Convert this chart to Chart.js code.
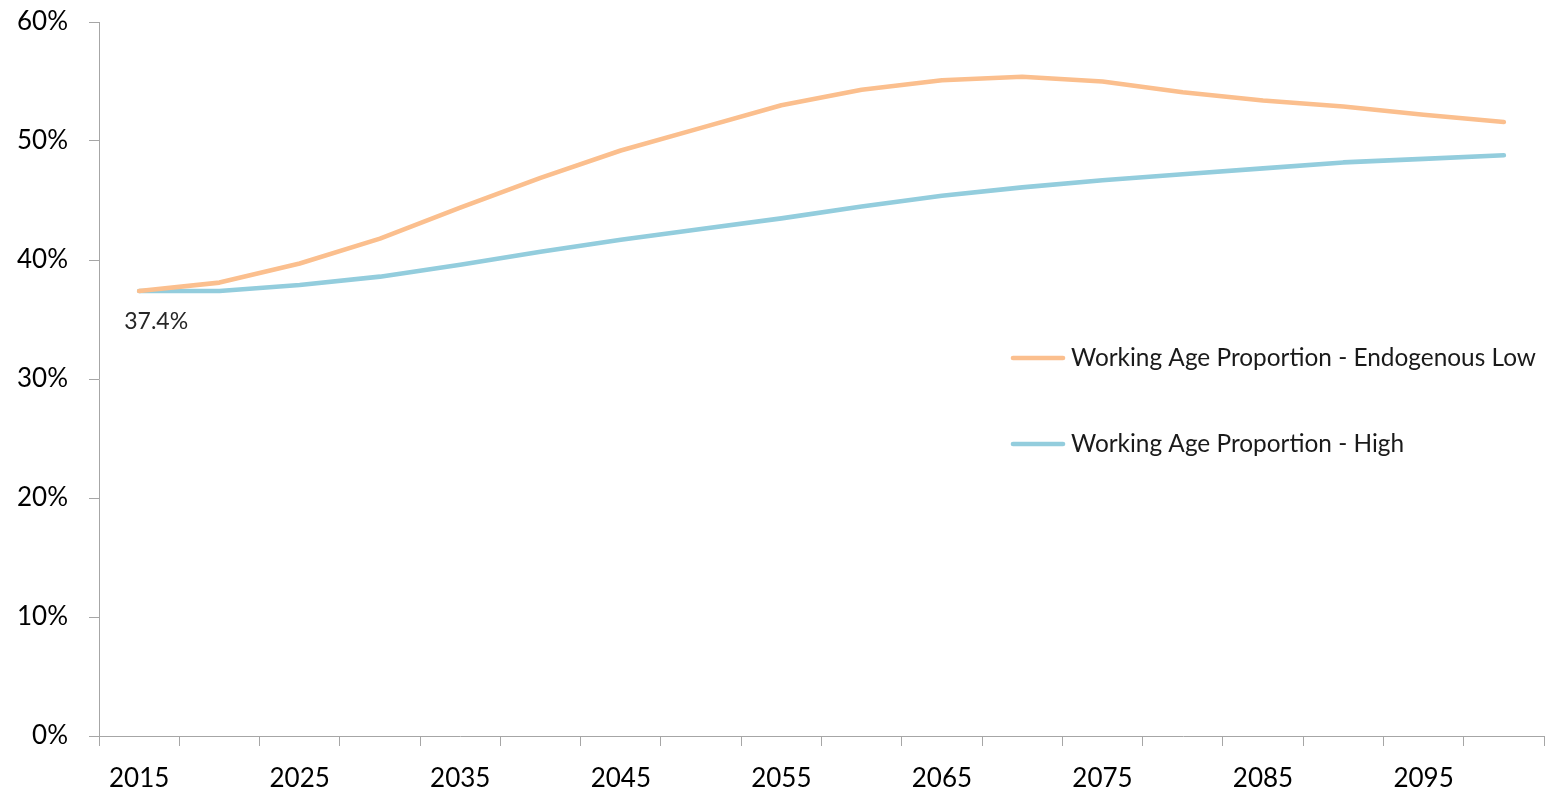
<!DOCTYPE html>
<html>
<head>
<meta charset="utf-8">
<script src="https://cdn.jsdelivr.net/npm/chart.js@4"></script>
<style>
html,body{margin:0;padding:0;background:#fff;}
#wrap{width:1548px;height:792px;position:relative;}
</style>
</head>
<body>
<div id="wrap"><canvas id="c" width="1548" height="792"></canvas></div>
<script>
const years = ['2015','2020','2025','2030','2035','2040','2045','2050','2055','2060','2065','2070','2075','2080','2085','2090','2095','2100'];
const endogenousLow = [37.4,38.1,39.7,41.8,44.4,46.9,49.2,51.1,53.0,54.3,55.1,55.4,55.0,54.1,53.4,52.9,52.2,51.6];
const high = [37.4,37.4,37.9,38.6,39.6,40.7,41.7,42.6,43.5,44.5,45.4,46.1,46.7,47.2,47.7,48.2,48.5,48.8];
const seriesNames = ['Working Age Proportion - Endogenous Low','Working Age Proportion - High'];
const yTicks = [0,10,20,30,40,50,60];
const firstLabel = '37.4%';

const FONT = 'Lato, "Open Sans", sans-serif';
const AXIS = '#A6A6A6';
const LW = 4.6;

const legendPlugin = {
  id: 'customLegend',
  afterDraw(chart) {
    const ctx = chart.ctx;
    const rows = [358, 444];
    ctx.save();
    chart.data.datasets.forEach((ds, i) => {
      const y = rows[i];
      ctx.strokeStyle = ds.borderColor;
      ctx.lineWidth = LW;
      ctx.lineCap = 'round';
      ctx.beginPath();
      ctx.moveTo(1013, y);
      ctx.lineTo(1063, y);
      ctx.stroke();
      ctx.fillStyle = '#1a1a1a';
      ctx.font = '24.4px ' + FONT;
      ctx.textBaseline = 'middle';
      ctx.textAlign = 'left';
      ctx.fillText(ds.label, 1071, y);
    });
    const meta = chart.getDatasetMeta(1);
    const p = meta.data[0];
    ctx.fillStyle = '#262626';
    ctx.font = '23px ' + FONT;
    ctx.textAlign = 'center';
    ctx.textBaseline = 'middle';
    ctx.fillText(firstLabel, p.x + 17, p.y + 31);
    ctx.restore();
  }
};

new Chart(document.getElementById('c'), {
  type: 'line',
  data: {
    labels: years,
    datasets: [
      {label: seriesNames[0], data: endogenousLow, borderColor: '#FBBF8E', borderWidth: LW, pointRadius: 0, tension: 0, borderCapStyle: 'round', borderJoinStyle: 'round', fill: false},
      {label: seriesNames[1], data: high, borderColor: '#93CDDD', borderWidth: LW, pointRadius: 0, tension: 0, borderCapStyle: 'round', borderJoinStyle: 'round', fill: false}
    ]
  },
  options: {
    responsive: false,
    animation: false,
    layout: {padding: {top: 22, right: 4, left: 0, bottom: 0}},
    plugins: {legend: {display: false}, tooltip: {enabled: false}},
    scales: {
      x: {
        offset: true,
        grid: {offset: true, drawOnChartArea: false, drawTicks: true, tickLength: 10, color: AXIS, lineWidth: 1},
        border: {color: AXIS, width: 1},
        ticks: {
          autoSkip: false, maxRotation: 0, color: '#000', padding: 17,
          font: {family: FONT, size: 26},
          callback: (v, i) => (i % 2 === 0 ? years[i] : '')
        },
        afterFit(s) { s.height = 56; s.paddingLeft = 0; s.paddingRight = 0; }
      },
      y: {
        min: 0, max: 60,
        afterBuildTicks(s) { s.ticks = yTicks.map(v => ({value: v})); },
        grid: {drawOnChartArea: false, drawTicks: true, tickLength: 10, color: AXIS},
        border: {color: AXIS, width: 1},
        ticks: {color: '#000', padding: 21, font: {family: FONT, size: 26}, callback: v => v + '%'},
        afterFit(s) { s.width = 99; s.paddingTop = 0; s.paddingBottom = 0; }
      }
    }
  },
  plugins: [legendPlugin]
});
</script>
</body>
</html>
